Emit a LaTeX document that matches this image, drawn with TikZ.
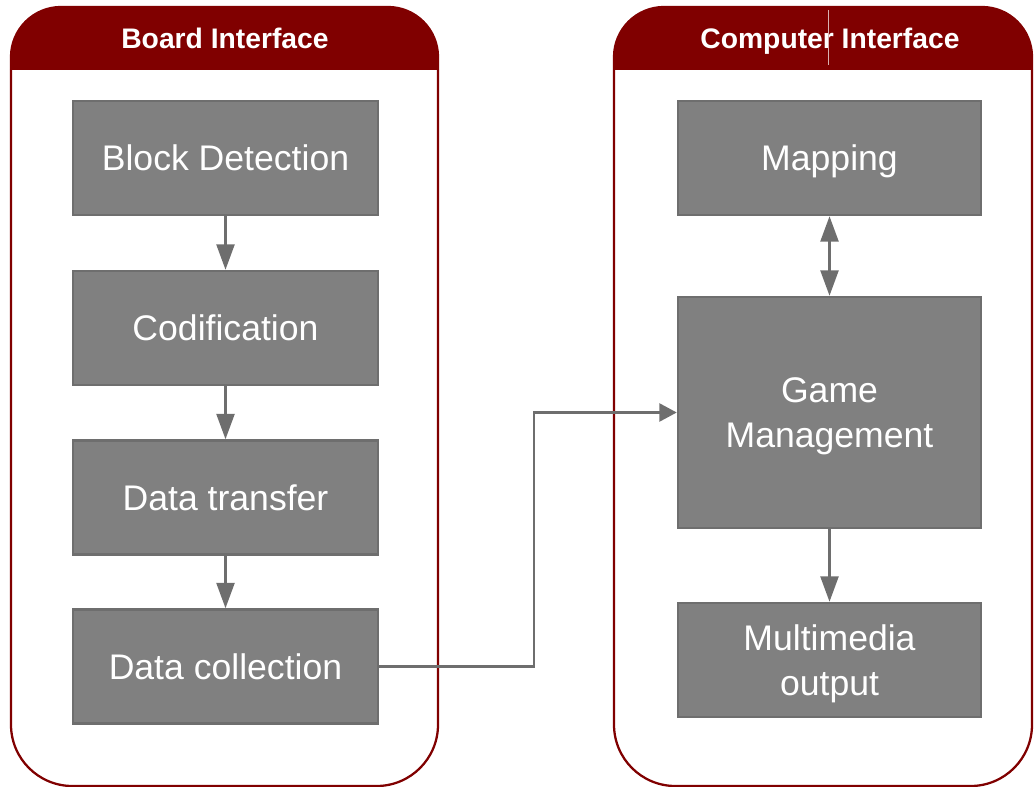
\documentclass[tikz,border=0pt]{standalone}
\usepackage{fontspec}
\setmainfont{Liberation Sans}
\usetikzlibrary{arrows.meta}
\definecolor{panelred}{HTML}{800000}
\definecolor{boxfill}{HTML}{808080}
\definecolor{boxline}{HTML}{6E6E6E}
\tikzset{
  stage/.style={draw=boxline, line width=1.9pt, fill=boxfill, text=white,
    align=center, inner sep=0pt, text depth=0pt,
    font=\fontsize{26.7}{34}\selectfont},
  head/.tip={Triangle[length=19pt,width=13.5pt]},
  shorthead/.tip={Triangle[length=13pt,width=13.5pt]},
  flow/.style={draw=boxline, line width=1.7pt, -head},
  panel/.style={draw=panelred, line width=1.7pt},
  header/.style={fill=panelred},
  title/.style={text=white, text depth=0pt, font=\fontsize{21.2}{24}\selectfont\bfseries}
}
\begin{document}
\begin{tikzpicture}[x=0.75pt, y=-0.75pt]
\useasboundingbox (0,0) rectangle (1034,787);

% ---- Board interface panel ----
\fill[header] (11,70) [rounded corners=37.5pt] -- (11,7) -- (438,7) [sharp corners] -- (438,70) -- cycle;
\draw[panel] (11,70) [rounded corners=37.5pt] -- (11,7) -- (438,7) [sharp corners] -- (438,70);
\draw[panel] (11,70) [rounded corners=46pt] -- (11,786) -- (438,786) [sharp corners] -- (438,70);
\node[title] (boardtitle) at (225,38) {Board Interface};

% ---- Computer interface panel ----
\fill[header] (614,70) [rounded corners=37.5pt] -- (614,7) -- (1032,7) [sharp corners] -- (1032,70) -- cycle;
\draw[panel] (614,70) [rounded corners=37.5pt] -- (614,7) -- (1032,7) [sharp corners] -- (1032,70);
\draw[panel] (614,70) [rounded corners=46pt] -- (614,786) -- (1032,786) [sharp corners] -- (1032,70);
\node[title] (comptitle) at (830,38) {Computer Interface};
\draw[white!70!panelred, line width=0.6pt] (828,10) -- (828,65);

% ---- Board side stages ----
\node[stage, minimum width=228.75pt, minimum height=85.5pt] (bd) at (225.5,158) {Block Detection};
\node[stage, minimum width=228.75pt, minimum height=85.5pt] (cod) at (225.5,328) {Codification};
\node[stage, minimum width=228.75pt, minimum height=85.5pt] (dt) at (225.5,497.5) {Data transfer};
\node[stage, minimum width=228.75pt, minimum height=85.5pt] (dc) at (225.5,666.5) {Data collection};

% ---- Computer side stages ----
\node[stage, minimum width=227.25pt, minimum height=85.5pt] (map) at (829.5,158) {Mapping};
\node[stage, minimum width=227.25pt, minimum height=173.25pt] (gm) at (829.5,412.5) {Game\\Management};
\node[stage, minimum width=227.25pt, minimum height=85.5pt] (mm) at (829.5,660) {Multimedia\\output};

% ---- Connectors ----
\draw[flow] (bd) -- (cod);
\draw[flow] (cod) -- (dt);
\draw[flow] (dt) -- (dc);
\coordinate (bend) at (534,412.5);
\draw[flow, -shorthead] (dc.east) -| (bend) -- (gm.west);
\draw[flow, head-head] (map) -- (gm);
\draw[flow] (gm) -- (mm);
\end{tikzpicture}
\end{document}
